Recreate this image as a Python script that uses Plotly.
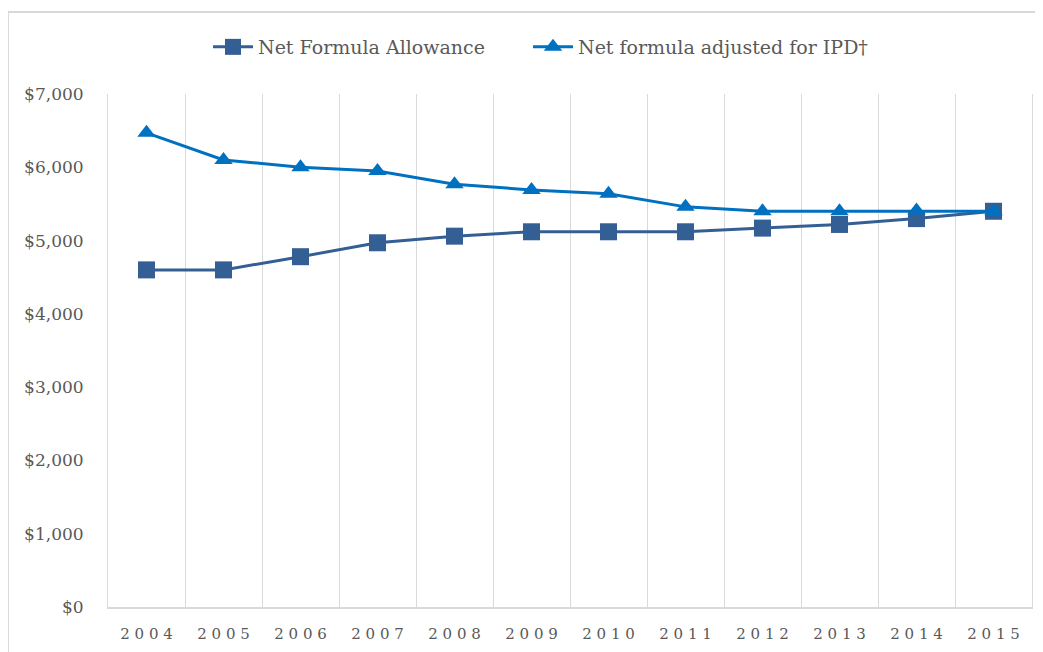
import plotly.graph_objects as go

years = ["2004", "2005", "2006", "2007", "2008", "2009", "2010", "2011", "2012", "2013", "2014", "2015"]
net_formula = [4600, 4600, 4780, 4970, 5060, 5120, 5120, 5120, 5170, 5220, 5300, 5400]
net_adjusted = [6470, 6100, 6000, 5950, 5770, 5690, 5640, 5460, 5400, 5400, 5410, 5400]
y_ticks = [0, 1000, 2000, 3000, 4000, 5000, 6000, 7000]

FONT = "DejaVu Serif"
GRAY = "#595959"
GRID = "#d9d9d9"

spaced = [" ".join(list(y)) for y in years]
y_text = ["$" + f"{v:,}" for v in y_ticks]

fig = go.Figure()
fig.add_trace(go.Scatter(
    x=years, y=net_formula, name="Net Formula Allowance", mode="lines+markers",
    line=dict(color="#345f94", width=3),
    marker=dict(symbol="square", size=17, color="#345f94"),
    legend="legend",
))
fig.add_trace(go.Scatter(
    x=years, y=net_adjusted, name="Net formula adjusted for IPD\u2020", mode="lines+markers",
    line=dict(color="#0070c0", width=3),
    marker=dict(symbol="triangle-up", size=16, color="#0070c0"),
    legend="legend2",
))

leg_common = dict(orientation="h", xanchor="left", y=1.0916, yanchor="middle",
                  font=dict(family=FONT, size=19, color=GRAY), itemwidth=40,
                  bgcolor="rgba(0,0,0,0)")

fig.update_layout(
    width=1043, height=652,
    margin=dict(l=100, r=19, t=86, b=53),
    paper_bgcolor="white", plot_bgcolor="white",
    font=dict(family=FONT, color=GRAY, size=17),
    showlegend=True,
    legend=dict(x=(208 - 108) / 924, **leg_common),
    legend2=dict(x=(528 - 108) / 924, **leg_common),
    xaxis=dict(type="category", categoryorder="array", categoryarray=years,
               tickvals=years, ticktext=spaced, tickson="boundaries",
               showgrid=True, gridcolor=GRID, gridwidth=1,
               showline=True, linecolor=GRID, linewidth=2,
               ticks="", tickfont=dict(family=FONT, size=15, color=GRAY),
               ticklabelstandoff=12, range=[-0.5, 11.5], fixedrange=True),
    yaxis=dict(range=[0, 7000], tickvals=y_ticks, ticktext=y_text,
               showgrid=False, zeroline=False,
               showline=True, linecolor=GRID, linewidth=1, mirror=True,
               ticks="", tickfont=dict(family=FONT, size=17, color=GRAY),
               ticklabelstandoff=20),
    shapes=[
        dict(type="line", xref="paper", yref="paper", x0=(8 - 108) / 924, x1=1.2,
             y0=(607 - 12) / 513, y1=(607 - 12) / 513, line=dict(color=GRID, width=2)),
        dict(type="line", xref="paper", yref="paper", x0=(8 - 108) / 924, x1=(8 - 108) / 924,
             y0=(607 - 12) / 513, y1=-0.2, line=dict(color=GRID, width=2)),
    ],
)

fig.write_html("out.html")
